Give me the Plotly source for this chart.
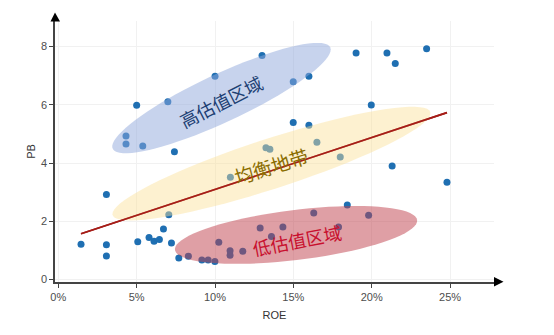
import numpy as np
import plotly.graph_objects as go

# ---- data ----
roe = [13.0, 10.0, 5.0, 6.99, 4.32, 4.32, 5.39, 7.41, 13.25, 13.5,
       19.0, 20.97, 23.5, 21.5, 14.99, 15.99, 19.97, 14.99, 15.99, 16.5, 17.99, 21.3,
       3.07, 1.45, 3.07, 3.07, 5.07, 5.79, 6.11, 6.45, 6.71, 7.22, 7.05, 10.98,
       7.69, 8.3, 9.16, 9.56, 9.99, 10.24, 10.96, 10.96, 11.77, 12.88, 13.6,
       24.8, 18.44, 16.3, 19.8, 14.33, 17.88]
pb = [7.69, 6.98, 5.98, 6.10, 4.93, 4.65, 4.58, 4.39, 4.52, 4.47,
      7.78, 7.78, 7.92, 7.42, 6.79, 6.98, 5.99, 5.39, 5.30, 4.71, 4.21, 3.90,
      2.92, 1.21, 1.19, 0.81, 1.30, 1.44, 1.31, 1.37, 1.73, 1.25, 2.22, 3.51,
      0.74, 0.80, 0.67, 0.67, 0.62, 1.28, 0.83, 0.99, 0.97, 1.77, 1.48,
      3.34, 2.56, 2.28, 2.21, 1.80, 1.80]
trend_x = [1.45, 24.8]
trend_y = [1.57, 5.73]
x_ticks = [0, 5, 10, 15, 20, 25]
y_ticks = [0, 2, 4, 6, 8]
zone_labels = ["高估值区域", "均衡地带", "低估值区域"]

# ---- layout geometry ----
W, H = 554, 335
ML, MR, MT, MB = 55, 60, 21, 53
xr = [-0.21, 27.8]
yr = [-0.086, 8.876]
sx = (W - ML - MR) / (xr[1] - xr[0])   # px per x unit
sy = (H - MT - MB) / (yr[1] - yr[0])   # px per y unit

def ellipse_path(cx, cy, a_px, b_px, ang_deg, n=80):
    t = np.linspace(0, 2 * np.pi, n)
    th = np.deg2rad(ang_deg)
    dx = a_px * np.cos(t) * np.cos(th) - b_px * np.sin(t) * np.sin(th)
    dy = a_px * np.cos(t) * np.sin(th) + b_px * np.sin(t) * np.cos(th)
    xs = cx + dx / sx
    ys = cy + dy / sy
    p = "M " + " L ".join(f"{x:.4f},{y:.4f}" for x, y in zip(xs, ys)) + " Z"
    return p

# ellipse specs: center (data), semi-axes (px), angle (deg)
ellipses = [
    (10.41, 6.23, 120, 24, 25, "#8fa8dc", 0.5),
    (13.6, 3.98, 167, 25, 18, "#fae197", 0.45),
    (15.17, 1.53, 122, 25, 7, "#c0404c", 0.5),
]
label_pos = [(10.41, 6.12, -27, "#1d3f73", 18),
             (13.55, 3.92, -17, "#8a6d00", 19),
             (15.2, 1.34, -11, "#c8102e", 18)]

TREND_COLOR = "#a51d18"

fig = go.Figure()
fig.add_trace(go.Scatter(x=roe, y=pb, mode="markers",
                         marker=dict(color="#1f6fb2", size=7),
                         showlegend=False, hoverinfo="skip"))
fig.add_trace(go.Scatter(x=trend_x, y=trend_y, mode="lines",
                         line=dict(color=TREND_COLOR, width=1.6),
                         showlegend=False, hoverinfo="skip"))

shapes = []
for cx, cy, a, b, ang, col, op in ellipses:
    shapes.append(dict(type="path", path=ellipse_path(cx, cy, a, b, ang),
                       xref="x", yref="y", fillcolor=col, opacity=op,
                       line=dict(width=0), layer="above"))
# trend line redrawn on top of the translucent zones (same data)
shapes.append(dict(type="line", xref="x", yref="y",
                   x0=trend_x[0], y0=trend_y[0], x1=trend_x[1], y1=trend_y[1],
                   line=dict(color=TREND_COLOR, width=1.6), layer="above"))
# axis arrows (paper coords)
px_w = W - ML - MR
px_h = H - MT - MB
def pxp(px):  # pixel x -> paper
    return (px - ML) / px_w
def pyp(py):  # pixel y -> paper
    return (H - MB - py) / px_h
shapes.append(dict(type="path", xref="paper", yref="paper",
                   path=f"M {pxp(50.5)},{pyp(21.5)} L {pxp(60)},{pyp(21.5)} L {pxp(55)},{pyp(12.5)} Z",
                   fillcolor="black", line=dict(width=0), layer="above"))
shapes.append(dict(type="path", xref="paper", yref="paper",
                   path=f"M {pxp(494)},{pyp(277)} L {pxp(494)},{pyp(286.5)} L {pxp(503.5)},{pyp(281.7)} Z",
                   fillcolor="black", line=dict(width=0), layer="above"))

annotations = []
for (x, y, ang, col, fs), txt in zip(label_pos, zone_labels):
    annotations.append(dict(x=x, y=y, xref="x", yref="y", text=txt, showarrow=False,
                            textangle=ang,
                            font=dict(family="Noto Sans CJK SC", size=fs, color=col)))

fig.update_layout(
    width=W, height=H,
    margin=dict(l=ML, r=MR, t=MT, b=MB),
    plot_bgcolor="white", paper_bgcolor="white",
    shapes=shapes, annotations=annotations,
    font=dict(family="Liberation Sans", size=11, color="#4d4d4d"),
    xaxis=dict(range=xr, tickvals=x_ticks, ticktext=[f"{v}%" for v in x_ticks],
               showgrid=True, gridcolor="#f1f1f1", gridwidth=1, zeroline=False,
               showline=True, linecolor="#444", linewidth=1.5,
               ticks="outside", ticklen=4, tickcolor="#444",
               title=dict(text="ROE", standoff=9, font=dict(size=11, color="#333"))),
    yaxis=dict(range=yr, tickvals=y_ticks,
               showgrid=True, gridcolor="#f1f1f1", gridwidth=1, zeroline=False,
               showline=True, linecolor="#444", linewidth=1.5,
               ticks="outside", ticklen=4, tickcolor="#444",
               title=dict(text="PB", standoff=3, font=dict(size=11, color="#333"))),
)
fig.write_html("out.html")
